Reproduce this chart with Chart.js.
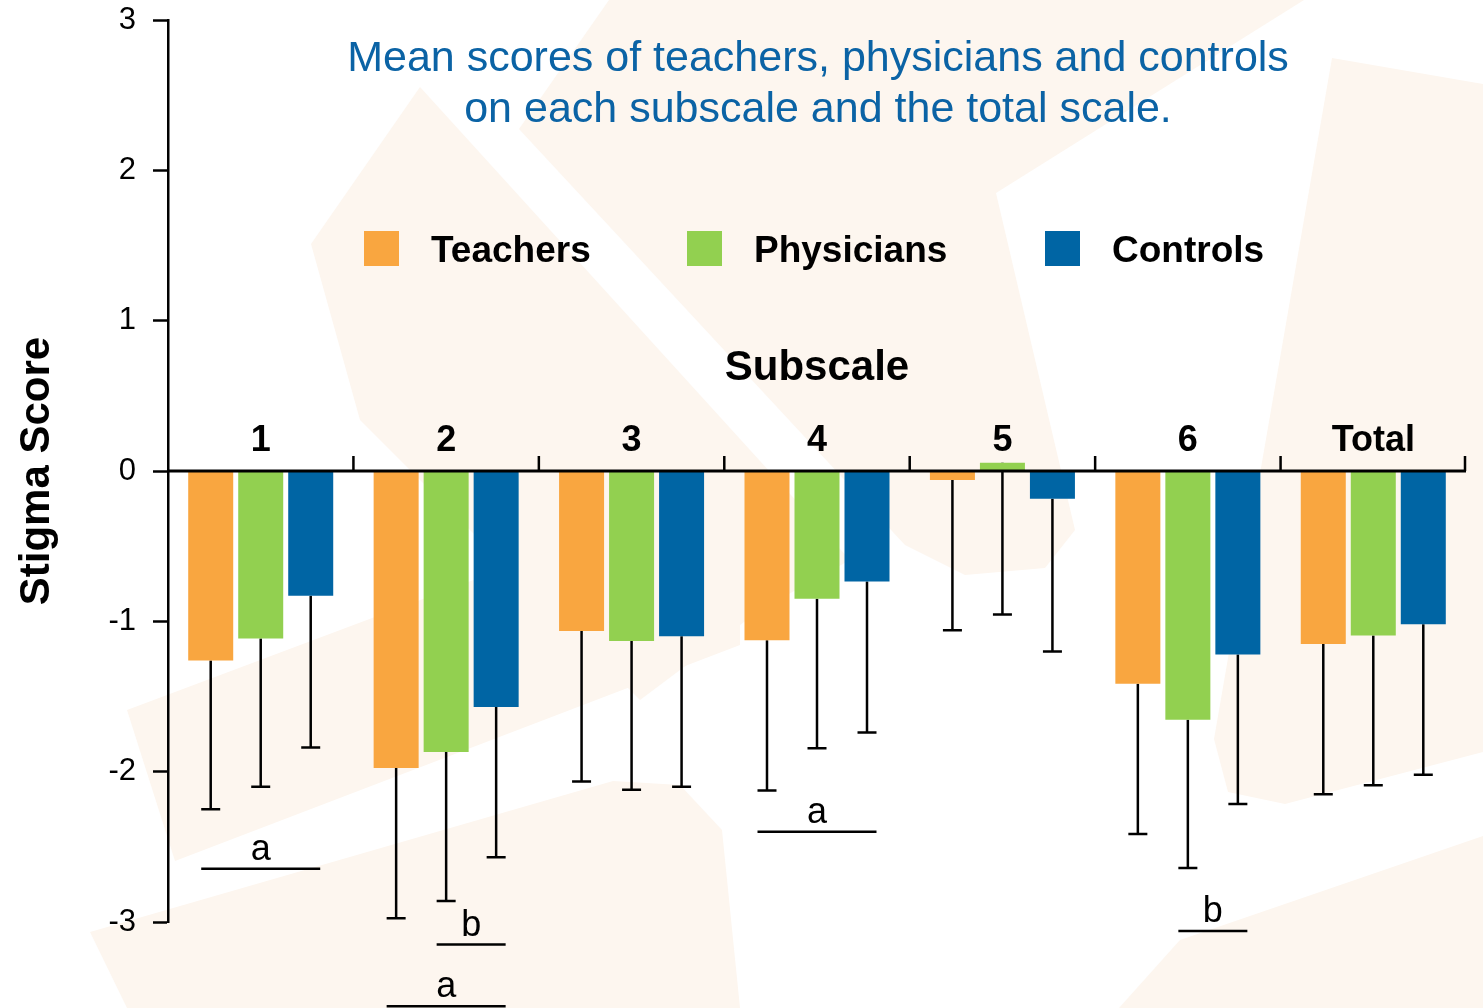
<!DOCTYPE html>
<html>
<head>
  <meta charset="UTF-8" />
  <title>Stigma scores</title>
  <script src="https://cdn.jsdelivr.net/npm/chart.js"></script>
  <style>
    html, body { margin: 0; padding: 0; background: #ffffff; }
    #wrap { width: 1483px; height: 1008px; position: relative; }
  </style>
</head>
<body>
  <div id="wrap"><canvas id="chart"></canvas></div>

  <script>
    const subscales = ['1', '2', '3', '4', '5', '6', 'Total'];
    const groupNames = ['Teachers', 'Physicians', 'Controls'];
    const groupColors = ['#F9A640', '#92D050', '#0065A4'];

    // mean scores per subscale
    const teachers   = [-1.26, -1.975, -1.065, -1.125, -0.06, -1.415, -1.15];
    const physicians = [-1.115, -1.87, -1.13, -0.85, 0.055, -1.655, -1.095];
    const controls   = [-0.83, -1.57, -1.10, -0.735, -0.185, -1.22, -1.02];

    // SD (error bars drawn downward only)
    const teachersSd   = [0.99, 1.0, 1.0, 1.0, 1.0, 1.0, 1.0];
    const physiciansSd = [0.985, 0.99, 0.99, 0.995, 1.01, 0.985, 0.995];
    const controlsSd   = [1.01, 1.0, 1.0, 1.005, 1.015, 0.995, 1.0];

    const yTicks = [-3, -2, -1, 0, 1, 2, 3];

    // significance marks: subscale index, from/to group, level, letter
    const sigMarks = [
      { cat: 0, from: 0, to: 2, y: -2.645, text: 'a' },
      { cat: 1, from: 1, to: 2, y: -3.15, text: 'b' },
      { cat: 1, from: 0, to: 2, y: -3.56, text: 'a' },
      { cat: 3, from: 0, to: 2, y: -2.40, text: 'a' },
      { cat: 5, from: 1, to: 2, y: -3.06, text: 'b' }
    ];

    const titleLines = ['Mean scores of teachers, physicians and controls', 'on each subscale and the total scale.'];

    const series = [teachers, physicians, controls];
    const sds = [teachersSd, physiciansSd, controlsSd];
    const FONT = "'Liberation Sans', Arial, sans-serif";

    // faint watermark shapes behind the plot (background only)
    const watermark = [
      [[609, 0], [1304, 0], [996, 193], [1075, 530], [1045, 568], [965, 575], [905, 545], [519, 129]],
      [[420, 87], [311, 244], [360, 420], [640, 700], [760, 610], [850, 560]],
      [[127, 710], [175, 861], [740, 645], [740, 480]],
      [[90, 932], [613, 781], [680, 785], [722, 830], [740, 1008], [127, 1008]],
      [[1332, 58], [1483, 84], [1483, 752], [1285, 804], [1228, 792], [1214, 739]],
      [[1119, 1008], [1180, 940], [1483, 836], [1483, 1008]]
    ];

    const bgPlugin = {
      id: 'bg',
      beforeDraw(chart) {
        const ctx = chart.ctx;
        ctx.save();
        ctx.fillStyle = '#ffffff';
        ctx.fillRect(0, 0, chart.width, chart.height);
        ctx.fillStyle = '#FDF6EF';
        watermark.forEach(poly => {
          ctx.beginPath();
          poly.forEach(([px, py], i) => i ? ctx.lineTo(px, py) : ctx.moveTo(px, py));
          ctx.closePath();
          ctx.fill();
        });
        ctx.restore();
      }
    };

    const errorBars = {
      id: 'errorBars',
      beforeDatasetsDraw(chart) {
        const { ctx, scales: { y } } = chart;
        ctx.save();
        ctx.strokeStyle = '#000';
        ctx.lineWidth = 2.5;
        series.forEach((vals, di) => {
          chart.getDatasetMeta(di).data.forEach((bar, i) => {
            const top = y.getPixelForValue(vals[i]);
            const bot = y.getPixelForValue(vals[i] - sds[di][i]);
            ctx.beginPath();
            ctx.moveTo(bar.x, top);
            ctx.lineTo(bar.x, bot);
            ctx.moveTo(bar.x - 9.5, bot);
            ctx.lineTo(bar.x + 9.5, bot);
            ctx.stroke();
          });
        });
        ctx.restore();
      }
    };

    const decor = {
      id: 'decor',
      afterDatasetsDraw(chart) {
        const { ctx, chartArea, scales: { x, y } } = chart;
        const y0 = y.getPixelForValue(0);
        ctx.save();

        // zero line with group separators
        ctx.strokeStyle = '#000';
        ctx.lineWidth = 3;
        ctx.beginPath();
        ctx.moveTo(chartArea.left, y0);
        ctx.lineTo(chartArea.right, y0);
        ctx.stroke();
        ctx.lineWidth = 2.5;
        ctx.beginPath();
        for (let i = 1; i <= subscales.length; i++) {
          const bx = i < subscales.length
            ? (x.getPixelForValue(i - 1) + x.getPixelForValue(i)) / 2
            : chartArea.right - 1;
          ctx.moveTo(bx, y0);
          ctx.lineTo(bx, y0 - 15);
        }
        ctx.stroke();

        // category labels above the axis
        ctx.fillStyle = '#000';
        ctx.textAlign = 'center';
        ctx.textBaseline = 'alphabetic';
        ctx.font = 'bold 36px ' + FONT;
        subscales.forEach((s, i) => ctx.fillText(s, x.getPixelForValue(i), y0 - 20));

        ctx.font = 'bold 42px ' + FONT;
        ctx.fillText('Subscale', (chartArea.left + chartArea.right) / 2, y0 - 91);

        // title
        ctx.fillStyle = '#0B63A5';
        ctx.font = '43px ' + FONT;
        ctx.fillText(titleLines[0], 818, 71);
        ctx.fillText(titleLines[1], 818, 122);

        // legend
        const legX = [364, 687, 1045];
        ctx.textAlign = 'left';
        ctx.font = 'bold 37px ' + FONT;
        groupNames.forEach((g, i) => {
          ctx.fillStyle = groupColors[i];
          ctx.fillRect(legX[i], 231, 35, 35);
          ctx.fillStyle = '#000';
          ctx.fillText(g, legX[i] + 67, 262);
        });

        // significance marks
        ctx.textAlign = 'center';
        ctx.font = '36px ' + FONT;
        ctx.lineWidth = 2.5;
        sigMarks.forEach(m => {
          const x1 = chart.getDatasetMeta(m.from).data[m.cat].x - 9.5;
          const x2 = chart.getDatasetMeta(m.to).data[m.cat].x + 9.5;
          const ly = y.getPixelForValue(m.y);
          ctx.beginPath();
          ctx.moveTo(x1, ly);
          ctx.lineTo(x2, ly);
          ctx.stroke();
          ctx.fillText(m.text, (x1 + x2) / 2, ly - 9);
        });

        ctx.restore();
      }
    };

    const ctx = document.getElementById('chart').getContext('2d');
    new Chart(ctx, {
      type: 'bar',
      data: {
        labels: subscales,
        datasets: groupNames.map((g, i) => ({
          label: g,
          data: series[i],
          backgroundColor: groupColors[i],
          barPercentage: 0.9,
          categoryPercentage: 0.809
        }))
      },
      options: {
        responsive: true,
        maintainAspectRatio: false,
        animation: false,
        layout: { padding: { top: 20, right: 17, bottom: 86, left: 0 } },
        plugins: {
          legend: { display: false },
          title: { display: false },
          tooltip: { enabled: false }
        },
        scales: {
          x: { display: false },
          y: {
            min: yTicks[0],
            max: yTicks[yTicks.length - 1],
            afterBuildTicks(s) { s.ticks = yTicks.map(v => ({ value: v })); },
            afterFit(s) { s.width = 168; s.paddingTop = 0; s.paddingBottom = 0; },
            ticks: { color: '#000', padding: 17, font: { family: FONT, size: 31 } },
            grid: { drawOnChartArea: false, drawTicks: true, tickLength: 15, tickColor: '#000', tickWidth: 2.5 },
            border: { display: true, color: '#000', width: 2.5 },
            title: {
              display: true,
              text: 'Stigma Score',
              color: '#000',
              font: { family: FONT, size: 42, weight: 'bold' },
              padding: { top: 12, bottom: 0 }
            }
          }
        }
      },
      plugins: [bgPlugin, errorBars, decor]
    });
  </script>
</body>
</html>
